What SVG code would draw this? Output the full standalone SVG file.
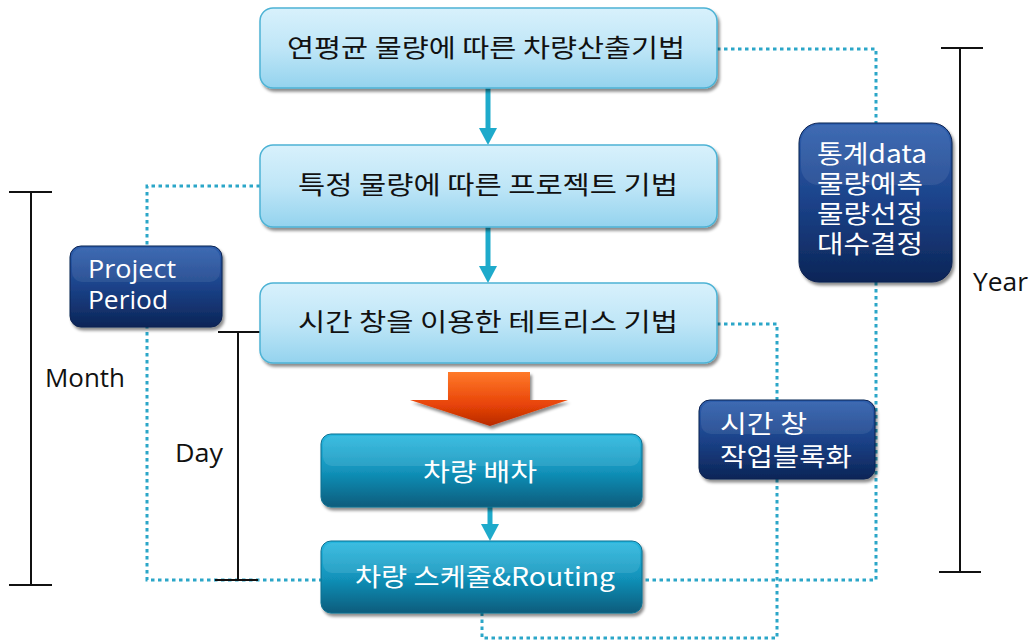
<svg xmlns="http://www.w3.org/2000/svg" width="1036" height="643" viewBox="0 0 1036 643">
<defs>
<linearGradient id="gLight" x1="0" y1="0" x2="0" y2="1"><stop offset="0" stop-color="#d8f1fc"/><stop offset="0.5" stop-color="#bfe6f7"/><stop offset="1" stop-color="#94d3ee"/></linearGradient>
<linearGradient id="gTeal" x1="0" y1="0" x2="0" y2="1"><stop offset="0" stop-color="#27b7df"/><stop offset="0.5" stop-color="#1293bb"/><stop offset="1" stop-color="#075c7c"/></linearGradient>
<linearGradient id="gNavy" x1="0" y1="0" x2="0" y2="1"><stop offset="0" stop-color="#2f5fae"/><stop offset="0.5" stop-color="#1b4289"/><stop offset="1" stop-color="#0c2557"/></linearGradient>
<linearGradient id="gOrange" x1="0" y1="0" x2="0" y2="1"><stop offset="0" stop-color="#ff7a2a"/><stop offset="0.6" stop-color="#e84408"/><stop offset="1" stop-color="#b82a00"/></linearGradient>
<filter id="sh" x="-10%" y="-10%" width="125%" height="135%"><feDropShadow dx="2" dy="3" stdDeviation="1.5" flood-color="#000" flood-opacity="0.45"/></filter>
</defs>
<style>
.light{fill:url(#gLight);stroke:#4db3d5;stroke-width:1.5;filter:url(#sh)}
.teal{fill:url(#gTeal);stroke:#0b6f90;stroke-width:1;filter:url(#sh)}
.navy{fill:url(#gNavy);stroke:#0a2150;stroke-width:1;filter:url(#sh)}
.kr{font-family:"Noto Sans CJK KR","Noto Sans",sans-serif;}
.en{font-family:"Open Sans","Noto Sans",sans-serif;}
.dk{fill:#111;font-size:25px}
.wt{fill:#fff;font-size:25px}
.dot{fill:none;stroke:#2ba6c8;stroke-width:3;stroke-dasharray:3.5 3.5}
.blk{fill:none;stroke:#111;stroke-width:2}
.flow{stroke:#1eaacb;stroke-width:5;fill:none}
.head{fill:#1eaacb}
</style>
<g id="connectors">
<polyline class="dot" points="260,186 147,186 147,580 321,580"/>
<polyline class="dot" points="717,49 876,49 876,123"/>
<polyline class="dot" points="876,282 876,580 642,580"/>
<polyline class="dot" points="717,324 777,324 777,400"/>
<polyline class="dot" points="777,479 777,638 482,638 482,613"/>
<line class="flow" x1="488" y1="88" x2="488" y2="130"/>
<polygon class="head" points="479,128 497,128 488,145"/>
<line class="flow" x1="488" y1="227" x2="488" y2="268"/>
<polygon class="head" points="479,266 497,266 488,283"/>
<line class="flow" x1="490" y1="507" x2="490" y2="526"/>
<polygon class="head" points="481,524 499,524 490,541"/>
<polygon points="448,372 530,372 530,400 568,400 490,426 410,400 448,400" fill="url(#gOrange)" filter="url(#sh)"/>
</g>
<g id="brackets">
<line class="blk" x1="31" y1="192" x2="31" y2="585"/>
<line class="blk" x1="9" y1="192" x2="52" y2="192"/>
<line class="blk" x1="9" y1="585" x2="52" y2="585"/>
<line class="blk" x1="238" y1="332" x2="238" y2="580"/>
<line class="blk" x1="218" y1="332" x2="260" y2="332"/>
<line class="blk" x1="215" y1="580" x2="258" y2="580"/>
<line class="blk" x1="960" y1="48" x2="960" y2="572"/>
<line class="blk" x1="941" y1="48" x2="983" y2="48"/>
<line class="blk" x1="939" y1="572" x2="981" y2="572"/>
<text class="en dk" x="45" y="387" font-size="25" textLength="80" lengthAdjust="spacingAndGlyphs">Month</text>
<text class="en dk" x="175" y="462" font-size="25" textLength="48" lengthAdjust="spacingAndGlyphs">Day</text>
<text class="en dk" x="973" y="291" font-size="25" textLength="55" lengthAdjust="spacingAndGlyphs">Year</text>
</g>
<g id="n1">
<rect class="light" x="260" y="8" width="457" height="80" rx="13"/>
<text class="kr dk" x="486" y="57" text-anchor="middle" textLength="398" lengthAdjust="spacingAndGlyphs">연평균 물량에 따른 차량산출기법</text>
</g>
<g id="n2">
<rect class="light" x="260" y="145" width="457" height="82" rx="13"/>
<text class="kr dk" x="488" y="194" text-anchor="middle" textLength="380" lengthAdjust="spacingAndGlyphs">특정 물량에 따른 프로젝트 기법</text>
</g>
<g id="n3">
<rect class="light" x="260" y="283" width="457" height="80" rx="13"/>
<text class="kr dk" x="488" y="331" text-anchor="middle" textLength="380" lengthAdjust="spacingAndGlyphs">시간 창을 이용한 테트리스 기법</text>
</g>
<g id="n4">
<rect class="teal" x="321" y="434" width="321" height="73" rx="10"/>
<rect x="323" y="436" width="317" height="30" rx="9" fill="#fff" opacity="0.1"/>
<text class="kr wt" x="480" y="481" text-anchor="middle" font-size="24" textLength="114" lengthAdjust="spacingAndGlyphs">차량 배차</text>
</g>
<g id="n5">
<rect class="teal" x="321" y="541" width="321" height="72" rx="10"/>
<rect x="323" y="543" width="317" height="30" rx="9" fill="#fff" opacity="0.1"/>
<text class="kr wt" x="485" y="586" text-anchor="middle" font-size="24" textLength="260" lengthAdjust="spacingAndGlyphs">차량 스케줄&amp;Routing</text>
</g>
<g id="n6">
<rect class="navy" x="70" y="246" width="152" height="81" rx="11"/>
<rect x="72" y="248" width="148" height="34" rx="10" fill="#fff" opacity="0.08"/>
<text class="en wt" x="88" y="278" textLength="88" lengthAdjust="spacingAndGlyphs">Project</text>
<text class="en wt" x="88" y="309" textLength="80" lengthAdjust="spacingAndGlyphs">Period</text>
</g>
<g id="n7">
<rect class="navy" x="799" y="123" width="153" height="159" rx="20"/>
<rect x="801" y="125" width="149" height="60" rx="18" fill="#fff" opacity="0.08"/>
<text class="kr wt" x="817" y="163" font-size="22" textLength="110" lengthAdjust="spacingAndGlyphs">통계data</text>
<text class="kr wt" x="817" y="193" font-size="22" textLength="106" lengthAdjust="spacingAndGlyphs">물량예측</text>
<text class="kr wt" x="817" y="223" font-size="22" textLength="106" lengthAdjust="spacingAndGlyphs">물량선정</text>
<text class="kr wt" x="817" y="253" font-size="22" textLength="106" lengthAdjust="spacingAndGlyphs">대수결정</text>
</g>
<g id="n8">
<rect class="navy" x="699" y="400" width="176" height="79" rx="11"/>
<rect x="701" y="402" width="172" height="32" rx="10" fill="#fff" opacity="0.08"/>
<text class="kr wt" x="720" y="433" textLength="87" lengthAdjust="spacingAndGlyphs">시간 창</text>
<text class="kr wt" x="720" y="466" textLength="132" lengthAdjust="spacingAndGlyphs">작업블록화</text>
</g>
</svg>
